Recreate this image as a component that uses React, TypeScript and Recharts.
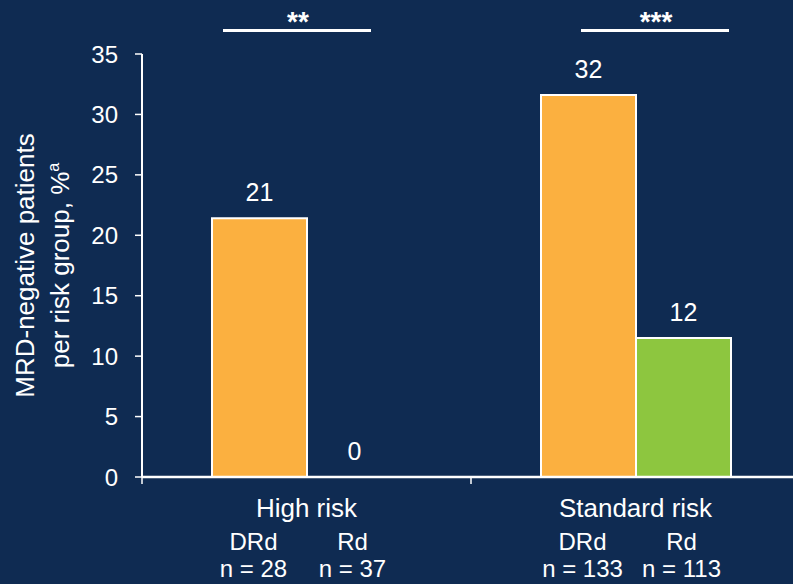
import React from 'react'
import { BarChart, Bar, XAxis, YAxis, LabelList, Label } from 'recharts'

// Risk groups and the share of MRD-negative patients in each arm (%)
const categories = ['High risk', 'Standard risk']
const drdValues = [21.4, 31.6]
const rdValues = [0, 11.5]
const armLabels = ['DRd', 'Rd']
const drdN = [28, 133]
const rdN = [37, 113]
const yTicks = [0, 5, 10, 15, 20, 25, 30, 35]
const significance = ['**', '***']

const data = categories.map((group, i) => ({
  group,
  drd: drdValues[i],
  rd: rdValues[i],
  nDrd: drdN[i],
  nRd: rdN[i]
}))

const BG = '#0f2b52'
const ORANGE = '#fbb040'
const GREEN = '#8dc63f'
const FONT = '"Liberation Sans", Arial, sans-serif'

const CHART_W = 800
const CHART_H = 584
const PLOT_LEFT = 142
const PLOT_TOP = 54
const X_AXIS_H = 107
const BAR_SIZE = 95
const BAND = (CHART_W - PLOT_LEFT) / categories.length

function CategoryTick(props: any): React.JSX.Element {
  const { x, y, payload, index } = props
  const row = data[index] ?? data[0]
  const left = x - BAND / 2
  return (
    <g fontFamily={FONT} fill="#fff">
      <line x1={left} y1={y} x2={left} y2={y + 7} stroke="#fff" strokeWidth={1.5} />
      <text x={x} y={y + 40} textAnchor="middle" fontSize={26} fill="#fff">
        {payload.value}
      </text>
      <text x={x - 53} y={y + 73} textAnchor="middle" fontSize={24} fill="#fff">
        {armLabels[0]}
      </text>
      <text x={x + 46} y={y + 73} textAnchor="middle" fontSize={24} fill="#fff">
        {armLabels[1]}
      </text>
      <text x={x - 53} y={y + 100} textAnchor="middle" fontSize={24} fill="#fff">
        n = {row.nDrd}
      </text>
      <text x={x + 46} y={y + 100} textAnchor="middle" fontSize={24} fill="#fff">
        n = {row.nRd}
      </text>
    </g>
  )
}

function ValueLabel(props: any): React.JSX.Element {
  const { x, y, width, value } = props
  return (
    <text
      x={x + width / 2}
      y={y - 17}
      textAnchor="middle"
      fontSize={25}
      fontFamily={FONT}
      fill="#fff"
    >
      {Math.round(value)}
    </text>
  )
}

function AxisTitle(props: any): React.JSX.Element {
  const vb = props.viewBox ?? { y: PLOT_TOP, height: 423 }
  const cy = vb.y + vb.height / 2
  return (
    <text
      transform={`translate(34, ${cy}) rotate(-90)`}
      textAnchor="middle"
      fontSize={26}
      fontFamily={FONT}
      fill="#fff"
    >
      <tspan x={0} y={0}>MRD-negative patients</tspan>
      <tspan x={0} y={35}>
        per risk group, %<tspan fontSize={16} dy={-10}>a</tspan>
      </tspan>
    </text>
  )
}

// significance brackets above each risk group
const brackets = [
  { x1: 223, x2: 371, starX: 298 },
  { x1: 581, x2: 729, starX: 656 }
]

export default function App(): React.JSX.Element {
  return (
    <div
      style={{
        position: 'absolute',
        left: 0,
        top: 0,
        width: 793,
        height: 584,
        overflow: 'hidden',
        background: BG
      }}
    >
      <BarChart
        width={CHART_W}
        height={CHART_H}
        data={data}
        margin={{ top: PLOT_TOP, right: 0, bottom: 0, left: 0 }}
        barGap={0}
        barSize={BAR_SIZE}
      >
        <XAxis
          dataKey="group"
          height={X_AXIS_H}
          axisLine={{ stroke: '#fff', strokeWidth: 2.5 }}
          tickLine={false}
          tickSize={0}
          tickMargin={0}
          interval={0}
          tick={<CategoryTick />}
        />
        <YAxis
          width={PLOT_LEFT}
          domain={[0, 35]}
          ticks={yTicks}
          interval={0}
          axisLine={{ stroke: '#fff', strokeWidth: 2 }}
          tickLine={{ stroke: '#fff', strokeWidth: 1.5 }}
          tickSize={7}
          tickMargin={17}
          tick={{ fill: '#fff', fontSize: 24, fontFamily: FONT }}
        >
          <Label content={<AxisTitle />} />
        </YAxis>
        <Bar dataKey="drd" fill={ORANGE} stroke="#fff" strokeWidth={2} isAnimationActive={false}>
          <LabelList dataKey="drd" content={<ValueLabel />} />
        </Bar>
        {/* a tiny minimum height keeps the zero bar (and its label) in the layout */}
        <Bar
          dataKey="rd"
          fill={GREEN}
          stroke="#fff"
          strokeWidth={2}
          minPointSize={0.01}
          isAnimationActive={false}
        >
          <LabelList dataKey="rd" content={<ValueLabel />} />
        </Bar>
      </BarChart>
      <svg
        width={793}
        height={584}
        style={{ position: 'absolute', left: 0, top: 0, pointerEvents: 'none' }}
      >
        {brackets.map((b, i) => (
          <g key={i}>
            <line x1={b.x1} y1={30.5} x2={b.x2} y2={30.5} stroke="#fff" strokeWidth={3} />
            <text
              x={b.starX}
              y={31}
              textAnchor="middle"
              fontSize={28}
              fontWeight="bold"
              fontFamily={FONT}
              fill="#fff"
            >
              {significance[i]}
            </text>
          </g>
        ))}
      </svg>
    </div>
  )
}
